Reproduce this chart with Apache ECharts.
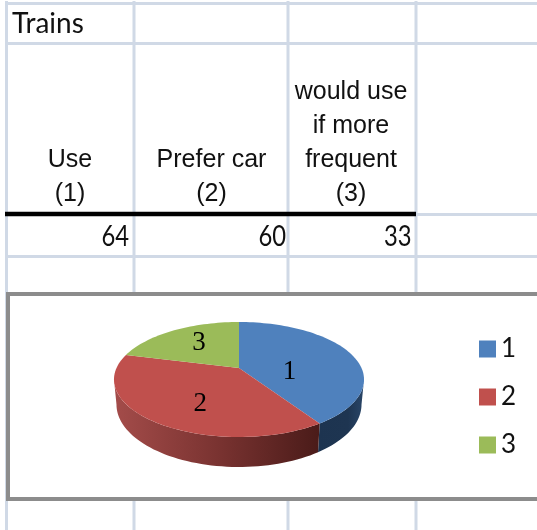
<!DOCTYPE html>
<html>
<head>
<meta charset="utf-8">
<style>html,body{margin:0;padding:0;background:#fff}#c{width:537px;height:530px}</style>
<script src="https://cdn.jsdelivr.net/npm/echarts@6/dist/echarts.min.js"></script>
</head>
<body>
<div id="c"></div>
<script>
const sliceNames = ['1', '2', '3'];
const sliceValues = [64, 60, 33];
const sheetTitle = 'Trains';
const columnHeads = [['Use', '(1)'], ['Prefer car', '(2)'], ['would use', 'if more', 'frequent', '(3)']];

const colors = ['#4f81bd', '#c0504d', '#9bbb59'];
const wallColors = [
  [[0, '#1d3450'], [0.65, '#1e3551'], [1, '#2a4668']],
  [[0, '#a44c4a'], [0.5, '#7a3331'], [1, '#4a1b19']],
  [[0, '#6b8a3a'], [1, '#5a7530']]
];

// pie projection
const P = { cx: 239, cy: 368, rx: 122.5, ry: 55.2, k: 0.2, depth: 24, shrink: 0.98 };
const total = sliceValues.reduce((a, b) => a + b, 0);
function project(deg, r, drop, sc) {
  const t = deg * Math.PI / 180, u = r * Math.sin(t), v = -r * Math.cos(t), d = 1 - P.k * v;
  return [P.cx + sc * P.rx * u / d, P.cy + (P.ry * v + drop) / d];
}
function arc(a, b, drop, sc) {
  const pts = [], n = Math.max(2, Math.ceil(Math.abs(b - a) / 2));
  for (let i = 0; i <= n; i++) pts.push(project(a + (b - a) * i / n, 1, drop, sc));
  return pts;
}
const labelRadius = [0.44, 0.5, 0.58], labelDrop = [11, 11, -2];

function renderSlice(idx) {
  return function () {
    let start = 0;
    for (let i = 0; i < idx; i++) start += sliceValues[i];
    const a = start / total * 360, b = (start + sliceValues[idx]) / total * 360;
    const children = [];
    const wa = Math.max(a, 101.5), wb = Math.min(b, 258.5);
    if (wb > wa) {
      const pts = arc(wa, wb, 0, 1).concat(arc(wa, wb, P.depth, P.shrink).reverse());
      children.push({
        type: 'polygon', shape: { points: pts },
        style: { fill: new echarts.graphic.LinearGradient(0, 0, 1, 0,
          wallColors[idx].map(s => ({ offset: s[0], color: s[1] }))) }
      });
    }
    children.push({
      type: 'polygon', shape: { points: [[P.cx, P.cy]].concat(arc(a, b, 0, 1)) },
      style: { fill: colors[idx] }
    });
    const m = project((a + b) / 2, labelRadius[idx], 0, 1);
    children.push({
      type: 'text', x: m[0], y: m[1] + labelDrop[idx], z2: 10,
      style: { text: sliceNames[idx], font: '27px "Liberation Serif"', fill: '#000', align: 'center', verticalAlign: 'middle' }
    });
    return { type: 'group', children };
  };
}

// spreadsheet backdrop
const GRID = '#d0d9e6', FRAME = '#8c8c8c';
const els = [];
function line(x1, y1, x2, y2, stroke, w, z) {
  els.push({ type: 'line', z: z || 0, silent: true, shape: { x1, y1, x2, y2 }, style: { stroke, lineWidth: w } });
}
function text(t, x, y, font, align, sx) {
  els.push({ type: 'text', z: 3, silent: true, x, y, scaleX: sx || 1, style: { text: t, font, fill: '#111', align, verticalAlign: 'middle' } });
}
[6.5, 134, 288, 416].forEach(x => line(x, 1, x, 530, GRID, 3));
[3.5, 43.5, 256.5].forEach(y => line(5, y, 537, y, GRID, 3));
line(416, 214.5, 537, 214.5, GRID, 3);
line(5, 214, 416, 214, '#000', 4.5, 2);
els.push({ type: 'rect', z: 1, silent: true, shape: { x: 8, y: 294, width: 540, height: 205 },
  style: { fill: '#fff', stroke: FRAME, lineWidth: 4 } });

const LATO = '28px Lato', ARIAL = '25px "Liberation Sans"';
text(sheetTitle, 12, 24, LATO, 'left');
const headCenters = [70, 211.5, 351], headBottom = 194, headStep = 34;
columnHeads.forEach((lines, c) => lines.forEach((s, i) =>
  text(s, headCenters[c], headBottom - (lines.length - 1 - i) * headStep, ARIAL, 'center')));
const valueRights = [129, 286, 411.5];
sliceValues.forEach((v, c) => text(String(v), valueRights[c], 237, LATO, 'right', 0.85));

const chart = echarts.init(document.getElementById('c'), null, { renderer: 'canvas' });
chart.setOption({
  animation: false,
  backgroundColor: '#fff',
  graphic: { elements: els },
  legend: {
    orient: 'vertical', left: 479, top: 336, padding: 0, itemWidth: 17, itemHeight: 17, itemGap: 22,
    icon: 'rect', selectedMode: false, z: 5,
    data: sliceNames,
    textStyle: { fontFamily: 'Lato', fontSize: 26, color: '#111' }
  },
  series: sliceNames.map((name, i) => ({
    type: 'custom', name, coordinateSystem: 'none', silent: true, z: 3,
    itemStyle: { color: colors[i] },
    data: [sliceValues[i]],
    renderItem: renderSlice(i)
  }))
});
</script>
</body>
</html>
